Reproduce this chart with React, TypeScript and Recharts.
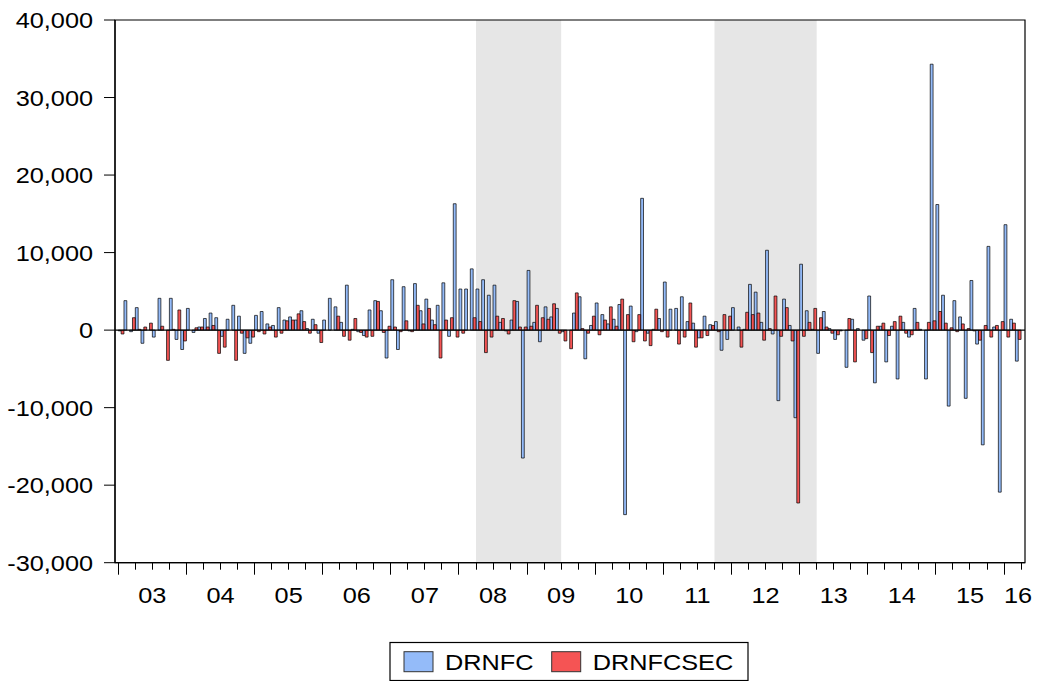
import React from 'react';
import { BarChart, Bar, XAxis, YAxis, ReferenceArea, ReferenceLine, Legend } from 'recharts';

// Monthly observations starting 2003M01
const START_YEAR = 2003;

const DRNFC = [
  -100, 3800, -200, 2900, -1700, 0, -900, 4100, 0, 4100, -1200, -2500, // 2003
  2800, -300, 400, 1500, 2200, 1600, -800, 1400, 3200, 1800, -3000, -1700, // 2004
  1900, 2400, 800, 600, 2900, 1300, 1700, 1300, 2500, 200, 1400, -400, // 2005
  1300, 4100, 3000, 1000, 5800, 100, -200, -700, 2600, 3800, 2500, -3600, // 2006
  6500, -2500, 5600, -100, 6000, 2500, 4000, 1300, 3200, 6100, -800, 16300, // 2007
  5300, 5300, 7900, 5300, 6500, 4500, 5800, 1000, -100, 1300, 3700, -16500, // 2008
  7700, 1000, -1500, 3000, 1700, 2800, -200, 0, 2200, 4300, -3700, 600, // 2009
  3500, 2000, 800, 1400, 3300, -23800, 3100, -200, 17000, -400, 100, 1500, // 2010
  6200, 2700, 2800, 4300, 1100, 900, -1000, 1800, 700, 1100, -2600, -1200, // 2011
  2900, 400, 100, 5900, 4900, 1000, 10300, -500, -9100, 4000, 600, -11300, // 2012
  8500, 2500, 100, -3000, 2400, 200, -1200, -100, -4800, 1400, 200, -1300, // 2013
  4400, -6800, 500, -4100, 500, -6300, 1000, -900, 2800, 100, -6300, 34300, // 2014
  16200, 4500, -9800, 3800, 1700, -8800, 6400, -1800, -14800, 10800, 400, -20900, // 2015
  13600, 1400, -4000, // 2016
];

const DRNFCSEC = [
  -500, 0, 1600, 100, 400, 900, 0, 500, -3900, 100, 2600, -1400, // 2003
  0, 300, 400, 400, 600, -3000, -2200, 0, -3900, -400, -1000, -900, // 2004
  -200, -500, 400, -900, -400, 1200, 1300, 2100, 1100, -400, 700, -1600, // 2005
  0, 0, 1800, -800, -1300, 1500, -300, -900, -800, 3700, -300, 500, // 2006
  400, -200, 1200, -200, 3200, 800, 2800, 700, -3600, 1300, 1600, -900, // 2007
  -400, 0, 1600, 1100, -2900, -900, 1800, 1500, -500, 3800, 400, 400, // 2008
  500, 3200, 1600, 1400, 3400, -400, -1400, -2400, 4800, 200, -400, 1800, // 2009
  -600, 1300, 3000, 500, 4000, 2000, -1500, 2000, -1400, -2000, 2700, -200, // 2010
  -900, 0, -1800, -900, 3500, -2200, -1000, -700, 600, -200, 2000, 1800, // 2011
  0, -2200, 2300, 2000, 2200, -1300, 200, 4400, -800, 2900, -1400, -22300, // 2012
  -800, 1000, 2800, 1600, 400, -400, -600, 0, 1500, -4100, 0, -1100, // 2013
  -2900, 500, 900, -700, 1100, 1800, -400, -600, 1000, 0, 1000, 1200, // 2014
  2400, 900, 300, -200, 800, 200, -100, -1300, 600, -900, 600, 1100, // 2015
  -900, 900, -1200, // 2016
];

const SERIES = ['DRNFC', 'DRNFCSEC'];
const COLORS = ['#94BBF9', '#F55454'];

const Y_TICKS = [-30000, -20000, -10000, 0, 10000, 20000, 30000, 40000];
const YEAR_LABELS = ['03', '04', '05', '06', '07', '08', '09', '10', '11', '12', '13', '14', '15', '16'];

// Shaded periods: [start year, start quarter, end year, end quarter]
const SHADED = [
  [2008, 2, 2009, 2],
  [2011, 4, 2013, 1],
];

// ---- chart geometry ----
const W = 1040;
const H = 681;
const PLOT_LEFT = 115;
const PLOT_RIGHT = 1025;
const PLOT_TOP = 20;
const PLOT_BOTTOM = 562.7;
const Y_AXIS_W = 100;
const X_AXIS_H = 40;
const X_MIN = -0.58;
const X_MAX = 159.69;
const FONT = '"Liberation Sans", Arial, Helvetica, sans-serif';
const STRETCH = 1.15;

const N = DRNFC.length;
const rows = DRNFC.map((v, i) => ({ t: i + 0.5, DRNFC: v, DRNFCSEC: DRNFCSEC[i] }));

const unitPx = (PLOT_RIGHT - PLOT_LEFT) / (X_MAX - X_MIN);
const barSize = unitPx / 2 - 0.005;

const quarterTicks: number[] = [];
for (let m = 0; m <= X_MAX; m += 3) quarterTicks.push(m);

const lastYearStart = Math.floor((N - 1) / 12) * 12;

const shadedSpans = SHADED.map(([y1, q1, y2, q2]) => ({
  from: (y1 - START_YEAR) * 12 + (q1 - 1) * 3,
  to: (y2 - START_YEAR) * 12 + q2 * 3,
}));

const fmt = (v: number) => v.toLocaleString('en-US');

const XTick = (props: any) => {
  const { x, y, payload } = props;
  const v: number = payload.value;
  const yearIdx = Math.floor(v / 12);
  const isYearStart = v % 12 === 0;
  const isMid = v % 12 === 6;
  const px = Math.floor(x) + 0.5;
  const label = YEAR_LABELS[yearIdx];
  const partialYear = isYearStart && v === lastYearStart && v + 6 > X_MAX;
  return (
    <g>
      <line x1={px} y1={y} x2={px} y2={y + (isYearStart ? 12 : 7)} stroke="#000" strokeWidth={1} />
      {isMid && label ? (
        <text transform={`translate(${x},${y + 40}) scale(${STRETCH},1)`} textAnchor="middle" fontSize={22} fontFamily={FONT} fill="#000">
          {label}
        </text>
      ) : null}
      {partialYear && label ? (
        <text transform={`translate(${x},${y + 40}) scale(${STRETCH},1)`} textAnchor="start" fontSize={22} fontFamily={FONT} fill="#000">
          {label}
        </text>
      ) : null}
    </g>
  );
};

const YTick = (props: any) => {
  const { x, y, payload } = props;
  return (
    <text transform={`translate(${x},${y}) scale(${STRETCH},1)`} dy={8} textAnchor="end" fontSize={22} fontFamily={FONT} fill="#000">
      {fmt(payload.value)}
    </text>
  );
};

const ITEM_X = [15, 162.7];

const LegendBox = (props: any) => {
  const payload = props.payload || [];
  return (
    <svg width={362} height={40} style={{ display: 'block', overflow: 'visible' }}>
      <rect x={1} y={0.5} width={358} height={38} fill="#fff" stroke="#000" strokeWidth={1.2} />
      {payload.map((p: any, i: number) => (
        <g key={p.value}>
          <rect x={ITEM_X[i]} y={9.7} width={29} height={20} fill={p.color} stroke="#333" strokeWidth={1} />
          <text
            transform={`translate(${ITEM_X[i] + 41},${28}) scale(${STRETCH},1)`}
            fontSize={22}
            fontFamily={FONT}
            fill="#000"
          >
            {p.value}
          </text>
        </g>
      ))}
    </svg>
  );
};

export default function App() {
  return (
    <div style={{ position: 'absolute', left: 0, top: 0, width: W, height: H, background: '#fff' }}>
      <BarChart
        width={W}
        height={H}
        data={rows}
        margin={{
          top: PLOT_TOP,
          right: W - PLOT_RIGHT,
          left: PLOT_LEFT - Y_AXIS_W,
          bottom: H - PLOT_BOTTOM - X_AXIS_H,
        }}
        barGap={0}
        barCategoryGap={0}
      >
        {shadedSpans.map((s, i) => (
          <ReferenceArea key={i} x1={s.from} x2={s.to} fill="#e6e6e6" fillOpacity={1} stroke="none" />
        ))}
        <XAxis
          dataKey="t"
          type="number"
          domain={[X_MIN, X_MAX]}
          allowDataOverflow
          ticks={quarterTicks}
          interval={0}
          tickLine={false}
          tickSize={0}
          tickMargin={0}
          tick={XTick}
          height={X_AXIS_H}
          axisLine={{ stroke: '#000', strokeWidth: 1.2 }}
        />
        <YAxis
          type="number"
          domain={[-30000, 40000]}
          allowDataOverflow
          ticks={Y_TICKS}
          interval={0}
          width={Y_AXIS_W}
          tickSize={11}
          tickMargin={11}
          tickLine={{ stroke: '#000', strokeWidth: 1 }}
          axisLine={{ stroke: '#000', strokeWidth: 1.2 }}
          tick={YTick}
        />
        {SERIES.map((s, i) => (
          <Bar
            key={s}
            dataKey={s}
            name={s}
            fill={COLORS[i]}
            stroke="#000"
            strokeWidth={0.7}
            barSize={barSize}
            isAnimationActive={false}
          />
        ))}
        <ReferenceLine y={0} stroke="#000" strokeWidth={1.2} />
        <ReferenceArea x1={X_MIN} x2={X_MAX} y1={-30000} y2={40000} fill="none" stroke="#000" strokeWidth={1.2} />
        <Legend
          layout="vertical"
          align="center"
          verticalAlign="middle"
          wrapperStyle={{ left: 389, top: 642, width: 362, height: 40 }}
          content={LegendBox}
        />
      </BarChart>
    </div>
  );
}
